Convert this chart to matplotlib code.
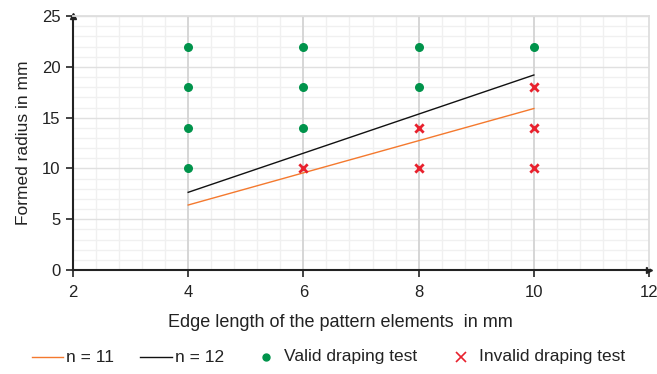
import matplotlib
matplotlib.use("Agg")
import matplotlib.pyplot as plt
from matplotlib.ticker import MultipleLocator
from matplotlib.lines import Line2D

plt.rcParams['font.family'] = ['Liberation Sans', 'DejaVu Sans']

# Data
line_x = [4, 10]
n11_y = [6.4, 15.9]
n12_y = [7.65, 19.2]
valid_x = [4, 4, 4, 4, 6, 6, 6, 8, 8, 10]
valid_y = [10, 14, 18, 22, 14, 18, 22, 18, 22, 22]
invalid_x = [6, 8, 8, 10, 10, 10]
invalid_y = [10, 10, 14, 10, 14, 18]
x_major = [4, 6, 8, 10]

orange = '#F4792E'
green = '#00934B'
red = '#E8212D'
dark = '#222222'

W, H = 657, 374
fig = plt.figure(figsize=(W / 100, H / 100), dpi=100)
ax = fig.add_axes([0.111, 0.278, 0.877, 0.679])
ax.set_xlim(2, 12)
ax.set_ylim(0, 25)

ax.xaxis.set_major_locator(MultipleLocator(2))
ax.xaxis.set_minor_locator(MultipleLocator(0.4))
ax.yaxis.set_major_locator(MultipleLocator(5))
ax.yaxis.set_minor_locator(MultipleLocator(1))

ax.set_axisbelow(True)
ax.grid(which='minor', color='#f0f0f0', lw=1.0, zorder=0.3)
ax.grid(which='major', axis='y', color='#e0e0e0', lw=1.0, zorder=0.4)
for xv in x_major:
    ax.axvline(xv, color='#d6d6d6', lw=1.4, zorder=0.6)

for s in ['top', 'right']:
    ax.spines[s].set_color('#dedede')
    ax.spines[s].set_linewidth(1.3)
for s in ['left', 'bottom']:
    ax.spines[s].set_color(dark)
    ax.spines[s].set_linewidth(1.5)
    ax.spines[s].set_zorder(2.5)

ax.tick_params(which='minor', length=0)
ax.tick_params(which='major', direction='out', length=5, width=1.2, color=dark,
               labelsize=12, labelcolor=dark, pad=6)
ax.tick_params(axis='y', pad=4)

# Arrows at axis ends
ax.plot(1, 0, '>', color=dark, ms=5, transform=ax.transAxes, clip_on=False)
ax.plot(0, 1, '^', color=dark, ms=5, transform=ax.transAxes, clip_on=False)

ax.plot(line_x, n11_y, color=orange, lw=1.0, zorder=2)
ax.plot(line_x, n12_y, color='#111111', lw=1.0, zorder=2)
ax.scatter(valid_x, valid_y, color=green, s=30, zorder=3)
ax.scatter(invalid_x, invalid_y, color=red, marker='x', s=36, linewidths=2, zorder=3)

ax.set_xlabel('Edge length of the pattern elements  in mm', fontsize=13, color=dark)
ax.xaxis.set_label_coords(0.465, -0.175)
ax.set_ylabel('Formed radius in mm', fontsize=12.5, color=dark, labelpad=8)

# Legend (manual layout along the bottom)
ly = 1 - 357 / H
def fx(px):
    return px / W

fig.add_artist(Line2D([fx(32), fx(63)], [ly, ly], color=orange, lw=1.0, transform=fig.transFigure))
fig.text(fx(66), ly, 'n = 11', fontsize=12.5, color=dark, va='center', ha='left')
fig.add_artist(Line2D([fx(140), fx(172)], [ly, ly], color='#111111', lw=1.0, transform=fig.transFigure))
fig.text(fx(175), ly, 'n = 12', fontsize=12.5, color=dark, va='center', ha='left')
fig.add_artist(Line2D([fx(266)], [ly], color=green, marker='o', ms=5, lw=0, transform=fig.transFigure))
fig.text(fx(284), ly, 'Valid draping test', fontsize=12.5, color=dark, va='center', ha='left')
fig.add_artist(Line2D([fx(461)], [ly], color=red, marker='x', ms=7, mew=1.2, lw=0, transform=fig.transFigure))
fig.text(fx(479), ly, 'Invalid draping test', fontsize=12.5, color=dark, va='center', ha='left')

fig.savefig('out.png', dpi=100)
